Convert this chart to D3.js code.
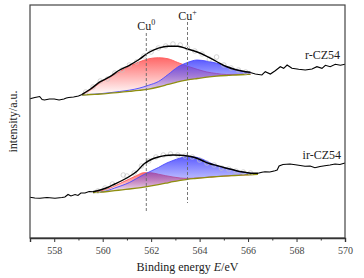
<!DOCTYPE html>
<html><head><meta charset="utf-8">
<script src="https://cdn.jsdelivr.net/npm/d3@7"></script>
<style>body{margin:0;background:#fff}svg{display:block}text{font-family:"Liberation Serif","Times New Roman",serif}</style>
</head><body><svg id="c" width="364" height="278"></svg>
<script>
// ---- data (binding energy in eV, intensity in a.u.) ----
const xTicks = [558, 560, 562, 564, 566, 568, 570];
const peakLines = [561.8, 563.5];
const peakNames = ["Cu", "Cu"];
const peakSup = ["0", "+"];
const sampleNames = ["r-CZ54", "ir-CZ54"];

// r-CZ54 raw spectrum outside fit window
const topRawLeftE = [557.0,557.2,557.4,557.5,557.6,557.8,558.0,558.2,558.4,558.5,558.6,558.8,558.9,559.0,559.15];
const topRawLeftI = [139.3,140.5,141.5,138.5,138,139,139,138,139,140,140.5,141,141.5,142,143.6];
const topRawRightE = [566.09,566.30,566.57,566.71,566.92,567.12,567.33,567.47,567.61,567.81,568.09,568.36,568.64,568.84,569.05,569.19,569.39,569.60,569.81,570.0];
const topRawRightI = [165.5,164,163,166.3,164,167.3,171.3,169.7,173,169.7,168.7,168,169,171.3,169.7,172.7,171.3,173.7,172.7,173.7];
// r-CZ54 fit
const topFitE = [559.15,559.5,559.9,560.3,560.7,561.1,561.5,561.9,562.3,562.7,563.1,563.5,563.9,564.3,564.7,565.1,565.5,565.9,566.1];
const topBase = [143,143.5,144,144.8,145.7,146.6,147.6,148.9,151,153.6,156.2,158.1,159.5,160.8,161.8,162.5,163,163.5,163.7];
const topCu0  = [143.5,148,155.5,161,166.3,171.7,176,179.2,180.3,179.2,175.5,171.8,168.7,166,164.5,163.5,163.6,163.8,163.8];
const topCu1  = [143,143.6,144.3,145.3,146.5,147.8,149.8,152.8,156.5,163.5,171,175.5,178,176.8,174.8,171.5,168.3,166,165.5];
const topEnv  = [143.7,149,156.3,161.3,168,172.7,178.5,185.5,189.8,191.8,191.8,189,186,181.7,176.5,171.5,168.3,166.3,165.7];
const topPtsE = [559.3,559.6,559.9,560.2,560.5,560.8,561.1,561.4,561.7,562.0,562.3,562.6,562.9,563.2,563.5,563.8,564.1,564.4,564.7,565.0,565.3,565.6,565.9];
const topPtsI = [146,151,157,159,165,168,173,176,182,186,190,192,194,193,190,187,184,179,181,173,170,168,166];

// ir-CZ54 raw spectrum outside fit window
const botRawLeftE = [557.0,557.2,557.41,557.7,558.03,558.32,558.44,558.57,558.69,558.86,558.98,559.1,559.27,559.44,559.6];
const botRawLeftI = [40.7,40,39.7,40.5,39.7,40.5,41,43.5,42,43.5,42.5,45,45,46.5,46.3];
const botRawRightE = [566.41,566.57,566.7,566.9,567.11,567.2,567.28,567.44,567.73,568.02,568.35,568.56,568.76,568.97,569.17,569.38,569.59,569.79,570.0];
const botRawRightI = [64.7,65.7,66.3,66,67.3,68,72,73.5,74,73,71.7,72,70.3,71.5,72.3,73,74,73.5,75];
// ir-CZ54 fit
const botFitE = [559.6,559.9,560.2,560.5,560.8,561.1,561.4,561.7,562.0,562.3,562.6,562.9,563.2,563.5,563.8,564.1,564.4,564.7,565.0,565.3,565.6,565.9,566.2,566.41];
const botBase = [45.3,45.8,46.5,47.3,48.2,49.0,49.9,50.9,52.1,53.4,54.8,56.3,57.6,58.7,59.5,60.2,60.8,61.4,61.9,62.3,62.7,63.1,63.4,63.7];
const botCu0  = [45.5,47,49,52,55.5,59,62.5,65.3,65.2,63.8,62.3,61,60,59.6,59.8,60.3,60.9,61.4,61.9,62.3,62.7,63.1,63.4,63.7];
const botCu1  = [45.3,46,47.5,50,52.5,55.5,59.5,63.5,67,70.5,74.5,77.5,80,81.3,81,79,75.5,72.5,70.5,68.7,66.7,65.3,64.5,64];
const botEnv  = [46.3,48,50.5,54,57.5,61.5,66.5,74,78.5,81,82.5,83,82.8,82,80.5,77.5,74.5,72.5,70.5,68.7,66.8,65.6,64.7,64.7];
const botPtsE = [559.8,560.1,560.4,560.85,561.0,561.3,561.6,561.9,562.2,562.5,562.8,563.1,563.4,563.7,564.0,564.3,564.6,564.9,565.2,565.5,565.8,566.1];
const botPtsI = [47,50,54,63,62,65,72,77,81,83,84,83,82,81,78,75,73,70,69,67,66,65];

// ---- drawing ----
const W = 364, H = 278;
const m = {l: 30, r: 345, t: 5, b: 238};
const svg = d3.select("#c");
const x = d3.scaleLinear().domain([557, 570]).range([m.l, m.r]);
const y = d3.scaleLinear().domain([0, 233]).range([m.b, m.t]);

const defs = svg.append("defs");
function grad(id, c, o0, o1) {
  const g = defs.append("linearGradient").attr("id", id).attr("x1", 0).attr("y1", 0).attr("x2", 0).attr("y2", 1);
  g.append("stop").attr("offset", "0%").attr("stop-color", c).attr("stop-opacity", o0);
  g.append("stop").attr("offset", "100%").attr("stop-color", c).attr("stop-opacity", o1);
}
grad("gRed", "#ff4d4d", 0.85, 0.0);
grad("gBlue", "#4040ff", 0.85, 0.05);

const zip = (a, b) => a.map((v, i) => [v, b[i]]);
const line = d3.line().x(d => x(d[0])).y(d => y(d[1]));
const sline = d3.line().x(d => x(d[0])).y(d => y(d[1])).curve(d3.curveMonotoneX);
const area = d3.area().x(d => x(d.e)).y0(d => y(d.b)).y1(d => y(d.v)).curve(d3.curveMonotoneX);

function spectrum(rawL, rawLI, rawR, rawRI, E, base, c0, c1, env, pE, pI) {
  const g = svg.append("g");
  const A = (vals) => E.map((e, i) => ({e, b: base[i], v: vals[i]}));
  g.append("path").attr("d", area(A(c0))).attr("fill", "url(#gRed)");
  g.append("path").attr("d", sline(zip(E, c0))).attr("fill", "none").attr("stroke", "#ff5a5a").attr("stroke-width", 0.9);
  g.append("path").attr("d", area(A(c1))).attr("fill", "url(#gBlue)");
  g.append("path").attr("d", sline(zip(E, c1))).attr("fill", "none").attr("stroke", "#4a4aff").attr("stroke-width", 0.9);
  g.append("path").attr("d", sline(zip(E, base))).attr("fill", "none").attr("stroke", "#8f8f10").attr("stroke-width", 1.3);
  g.selectAll("circle").data(zip(pE, pI)).join("circle")
    .attr("cx", d => x(d[0])).attr("cy", d => y(d[1])).attr("r", 2.3)
    .attr("fill", "none").attr("stroke", "#c4c4c4").attr("stroke-width", 0.7);
  g.append("path").attr("d", sline(zip(E, env))).attr("fill", "none").attr("stroke", "#000").attr("stroke-width", 1.4);
  g.append("path").attr("d", line(zip(rawL, rawLI))).attr("fill", "none").attr("stroke", "#000").attr("stroke-width", 1.1);
  g.append("path").attr("d", line(zip(rawR, rawRI))).attr("fill", "none").attr("stroke", "#000").attr("stroke-width", 1.1);
}
spectrum(topRawLeftE, topRawLeftI, topRawRightE, topRawRightI, topFitE, topBase, topCu0, topCu1, topEnv, topPtsE, topPtsI);
spectrum(botRawLeftE, botRawLeftI, botRawRightE, botRawRightI, botFitE, botBase, botCu0, botCu1, botEnv, botPtsE, botPtsI);

// dashed reference lines
const dashTop = [33, 22], dashBot = [212, 203], labY = [30, 20];
peakLines.forEach((e, i) => {
  svg.append("line").attr("x1", x(e)).attr("x2", x(e)).attr("y1", dashTop[i]).attr("y2", dashBot[i])
    .attr("stroke", "#666").attr("stroke-width", 0.9).attr("stroke-dasharray", "3,2");
  const t = svg.append("text").attr("x", x(e)).attr("y", labY[i]).attr("text-anchor", "middle")
    .attr("font-size", 12).attr("fill", "#222");
  t.append("tspan").text(peakNames[i]);
  t.append("tspan").attr("font-size", 8).attr("dy", -5).text(peakSup[i]);
});

// sample labels
svg.append("text").attr("x", 340).attr("y", 59).attr("text-anchor", "end").attr("font-size", 12).attr("fill", "#222").text(sampleNames[0]);
svg.append("text").attr("x", 341).attr("y", 159).attr("text-anchor", "end").attr("font-size", 12).attr("fill", "#222").text(sampleNames[1]);

// frame
svg.append("rect").attr("x", m.l).attr("y", m.t).attr("width", m.r - m.l).attr("height", m.b - m.t)
  .attr("fill", "none").attr("stroke", "#444").attr("stroke-width", 1.2);

// x axis
const ax = svg.append("g").attr("transform", `translate(0,${m.b})`)
  .call(d3.axisBottom(x).tickValues(xTicks).tickSize(4).tickFormat(d3.format("d")));
ax.select(".domain").attr("stroke", "#333").attr("stroke-width", 1.4);
ax.selectAll(".tick line").attr("stroke", "#333").attr("stroke-width", 1);
ax.selectAll(".tick text").attr("font-family", "Liberation Serif").attr("font-size", 10).attr("fill", "#444").attr("dy", "0.9em");
const minor = svg.append("g").attr("transform", `translate(0,${m.b})`)
  .call(d3.axisBottom(x).tickValues(d3.range(559, 570, 2)).tickSize(2.5).tickFormat(""));
minor.select(".domain").remove();
minor.selectAll(".tick line").attr("stroke", "#333");

// axis titles
const xt = svg.append("text").attr("x", (m.l + m.r) / 2).attr("y", 271).attr("text-anchor", "middle").attr("font-size", 12).attr("fill", "#222");
xt.append("tspan").text("Binding energy ");
xt.append("tspan").attr("font-style", "italic").text("E");
xt.append("tspan").text("/eV");
svg.append("text").attr("transform", `translate(17,${(m.t + m.b) / 2}) rotate(-90)`).attr("text-anchor", "middle")
  .attr("font-size", 12).attr("fill", "#222").text("intensity/a.u.");
</script></body></html>
